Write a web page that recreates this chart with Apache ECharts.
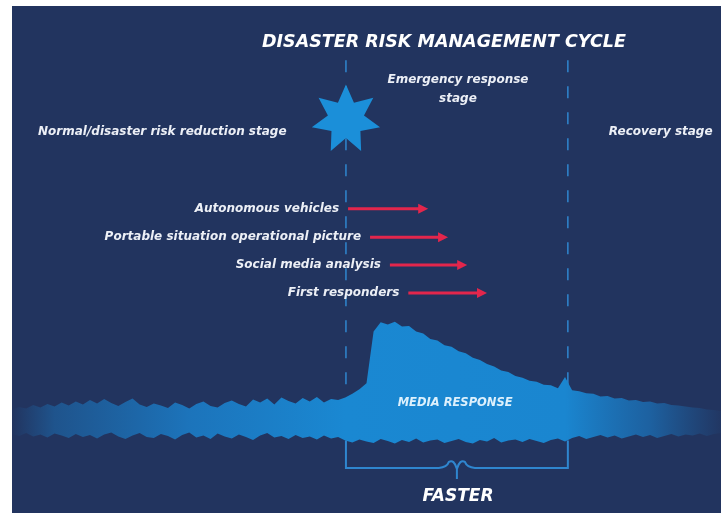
<!DOCTYPE html>
<html lang="en">
<head>
    <title>Disaster risk management cycle</title>
    <meta charset="utf-8">
    <style>
        body{margin:0; background:#fff;}
        #container{position:absolute; left:12px; top:6px; width:709px; height:507px;}
    </style>
</head>
<body>
<div id="container"></div>

<script type="text/javascript" src="https://cdn.jsdelivr.net/npm/echarts/dist/echarts.min.js"></script>
<script>
// stages of the cycle and where the emergency stage starts / ends on the timeline (0-100)
var stages = ['Normal/disaster risk reduction stage', 'Emergency response\nstage', 'Recovery stage'];
var stageBounds = [47.1, 78.4];

// tools that make the response faster: arrow start, arrow end, row height
var tools = ['Autonomous vehicles', 'Portable situation operational picture', 'Social media analysis', 'First responders'];
var toolStart = [47.4, 50.5, 53.3, 55.9];
var toolEnd = [58.7, 61.5, 64.2, 67.0];
var toolRow = [60.0, 54.4, 48.9, 43.4];

// media response volume, one value per timeline step (0..100): lower and upper edge of the band
var mediaLow = [
    15.6, 15.2, 15.8, 15.1, 15.5, 14.9, 15.7, 15.3, 14.8, 15.6,
    15.0, 15.4, 14.7, 15.5, 15.9, 15.1, 14.6, 15.3, 15.8, 15.0,
    14.8, 15.6, 15.2, 14.5, 15.4, 15.9, 14.9, 15.3, 14.6, 15.7,
    15.1, 14.7, 15.5, 15.0, 14.4, 15.3, 15.8, 14.9, 15.2, 14.6,
    15.4, 14.8, 15.1, 14.5, 15.3, 14.7, 15.0,
    14.3, 13.9, 14.5, 14.1, 13.8, 14.6, 14.2, 13.7, 14.4, 14.0,
    14.7, 13.9, 14.3, 14.5, 13.8, 14.2, 14.6, 14.0, 13.7, 14.4,
    14.1, 14.8, 13.9, 14.3, 14.5, 14.0, 14.6, 14.2, 13.8, 14.4,
    14.7, 14.1,
    14.8, 15.2, 14.6, 15.0, 15.4, 14.9, 15.3, 14.7, 15.1, 15.5,
    15.0, 15.4, 14.8, 15.2, 15.6, 15.1, 15.5, 15.3, 15.7, 15.2,
    15.6, 15.8
];
var mediaHigh = [
    20.4, 20.9, 20.6, 21.3, 20.8, 21.5, 21.0, 21.8, 21.2, 22.0, 21.4,
    22.3, 21.6, 22.5, 21.7, 21.1, 21.9, 22.6, 21.4, 20.9, 21.6,
    21.2, 20.7, 21.8, 21.3, 20.6, 21.5, 22.0, 21.1, 20.8, 21.7,
    22.2, 21.5, 21.0, 22.4, 21.8, 22.6, 21.4, 22.8, 22.1, 21.6,
    22.7, 22.0, 22.9, 21.8, 22.5, 22.3,
    22.8, 23.5, 24.4, 25.6, 35.8, 37.6, 37.2, 37.7, 36.8, 36.9,
    35.8, 35.4, 34.3, 34.0, 33.1, 32.8, 31.9, 31.5, 30.6, 30.2,
    29.4, 28.9, 28.1, 27.8, 27.0, 26.7, 26.1, 25.9, 25.3, 25.2,
    24.6, 26.8, 24.2, 24.0, 23.6, 23.5, 23.0, 23.1, 22.6, 22.7,
    22.2, 22.3, 21.9, 22.0, 21.6, 21.7, 21.3, 21.2, 21.0, 20.8,
    20.7, 20.4, 20.3, 20.1
];

var white = '#eceff6';
var lineBlue = '#2f86cf';
var fontFam = '"DejaVu Sans", "Open Sans", sans-serif';

var myChart = echarts.init(document.getElementById('container'));

var option = {
    backgroundColor: '#22345f',
    animation: false,
    title: {
        text: 'DISASTER RISK MANAGEMENT CYCLE',
        left: 250,
        top: 27,
        padding: 0,
        textStyle: {color: '#ffffff', fontFamily: fontFam, fontStyle: 'italic', fontWeight: 'bold', fontSize: 17.5}
    },
    grid: {left: 0, right: 0, top: 0, bottom: 0},
    xAxis: {type: 'value', min: 0, max: 100, show: false},
    yAxis: {type: 'value', min: 0, max: 100, show: false},
    series: [
        {
            // dashed stage boundaries
            type: 'custom',
            z: 1,
            silent: true,
            data: stageBounds,
            renderItem: function (params, api) {
                var top = api.coord([api.value(0), 89.3]);
                var bot = api.coord([api.value(0), 15]);
                return {
                    type: 'line',
                    shape: {x1: top[0], y1: top[1], x2: bot[0], y2: bot[1]},
                    style: {stroke: lineBlue, lineWidth: 1.5, lineDash: [12, 14]}
                };
            }
        },
        {
            // media response band, upper edge then lower edge back
            name: 'Media response',
            type: 'custom',
            z: 2,
            silent: true,
            data: [0],
            renderItem: function (params, api) {
                var pts = [];
                mediaHigh.forEach(function (v, i) { pts.push(api.coord([i, v])); });
                for (var i = mediaLow.length - 1; i >= 0; i--) pts.push(api.coord([i, mediaLow[i]]));
                return {
                    type: 'polygon',
                    shape: {points: pts},
                    style: {
                        fill: new echarts.graphic.LinearGradient(0, 0, 1, 0, [
                            {offset: 0, color: 'rgba(28,110,178,0)'},
                            {offset: 0.06, color: 'rgba(28,110,178,0.55)'},
                            {offset: 0.25, color: '#1c74bb'},
                            {offset: 0.47, color: '#1a88d2'},
                            {offset: 0.78, color: '#1a86d0'},
                            {offset: 0.9, color: 'rgba(27,116,188,0.7)'},
                            {offset: 1, color: 'rgba(27,110,180,0.05)'}
                        ])
                    }
                };
            }
        },
        {
            // bracket under the emergency stage
            type: 'custom',
            z: 3,
            silent: true,
            data: [[stageBounds[0], stageBounds[1]]],
            renderItem: function (params, api) {
                var x0 = api.value(0), x1 = api.value(1), xm = (x0 + x1) / 2;
                var pTopL = api.coord([x0, 14.3]), pBotL = api.coord([x0, 8.9]);
                var pTopR = api.coord([x1, 14.3]), pBotR = api.coord([x1, 8.9]);
                var pm = api.coord([xm, 8.9]);
                var y = pBotL[1];
                var d = 'M' + pTopL[0] + ' ' + pTopL[1] + ' L' + pBotL[0] + ' ' + y +
                    ' L' + (pm[0] - 18) + ' ' + y +
                    ' Q' + (pm[0] - 10) + ' ' + (y - 0.5) + ' ' + (pm[0] - 8) + ' ' + (y - 6) +
                    ' Q' + (pm[0] - 3) + ' ' + (y - 9) + ' ' + pm[0] + ' ' + (y + 1) +
                    ' L' + pm[0] + ' ' + (y + 11) +
                    ' M' + pm[0] + ' ' + (y + 1) +
                    ' Q' + (pm[0] + 3) + ' ' + (y - 9) + ' ' + (pm[0] + 8) + ' ' + (y - 6) +
                    ' Q' + (pm[0] + 10) + ' ' + (y - 0.5) + ' ' + (pm[0] + 18) + ' ' + y +
                    ' L' + pBotR[0] + ' ' + y + ' L' + pTopR[0] + ' ' + pTopR[1];
                return {
                    type: 'path',
                    shape: {pathData: d},
                    style: {stroke: lineBlue, lineWidth: 2, fill: null}
                };
            }
        },
        {
            // red arrows with their labels
            type: 'custom',
            z: 5,
            silent: true,
            data: tools.map(function (t, i) { return [toolStart[i], toolEnd[i], toolRow[i], i]; }),
            renderItem: function (params, api) {
                var p0 = api.coord([api.value(0), api.value(2)]);
                var p1 = api.coord([api.value(1), api.value(2)]);
                var i = api.value(3);
                return {
                    type: 'group',
                    children: [
                        {
                            type: 'line',
                            shape: {x1: p0[0], y1: p0[1], x2: p1[0] - 7, y2: p1[1]},
                            style: {stroke: '#e3264c', lineWidth: 3}
                        },
                        {
                            type: 'polygon',
                            shape: {points: [[p1[0], p1[1]], [p1[0] - 10, p1[1] - 5], [p1[0] - 10, p1[1] + 5]]},
                            style: {fill: '#e3264c'}
                        },
                        {
                            type: 'text',
                            style: {
                                text: tools[i], x: p0[0] - 9, y: p0[1],
                                align: 'right', verticalAlign: 'middle', fill: white,
                                font: 'italic bold 12px ' + fontFam
                            }
                        }
                    ]
                };
            }
        },
        {
            // the disaster event: a 7 point star on the start of the emergency stage
            type: 'custom',
            z: 6,
            silent: true,
            data: [[stageBounds[0], 78.0]],
            renderItem: function (params, api) {
                var c = api.coord([api.value(0), api.value(1)]);
                var pts = [];
                for (var k = 0; k < 14; k++) {
                    var a = -Math.PI / 2 + k * Math.PI / 7;
                    var r = k % 2 === 0 ? 35 : 18.5;
                    pts.push([c[0] + r * Math.cos(a), c[1] + 2 + r * Math.sin(a)]);
                }
                return {type: 'polygon', shape: {points: pts}, style: {fill: '#1b8fd9'}};
            }
        },
        {
            // stage names and other texts
            type: 'scatter',
            z: 7,
            silent: true,
            symbolSize: 0,
            itemStyle: {opacity: 1},
            label: {
                show: true,
                position: 'inside',
                opacity: 1,
                formatter: function (p) { return p.data.text; },
                color: white,
                fontFamily: fontFam,
                fontStyle: 'italic',
                fontWeight: 'bold',
                fontSize: 12,
                lineHeight: 19
            },
            data: [
                {value: [21.2, 75.1], text: stages[0]},
                {value: [62.9, 83.5], text: stages[1]},
                {value: [91.5, 75.1], text: stages[2]},
                {value: [62.5, 21.6], text: 'MEDIA RESPONSE', label: {fontSize: 11.5, color: '#dcf0fc'}},
                {value: [62.9, 3.3], text: 'FASTER', label: {fontSize: 17, color: '#ffffff'}}
            ]
        }
    ]
};

myChart.setOption(option);
</script>
</body>
</html>
